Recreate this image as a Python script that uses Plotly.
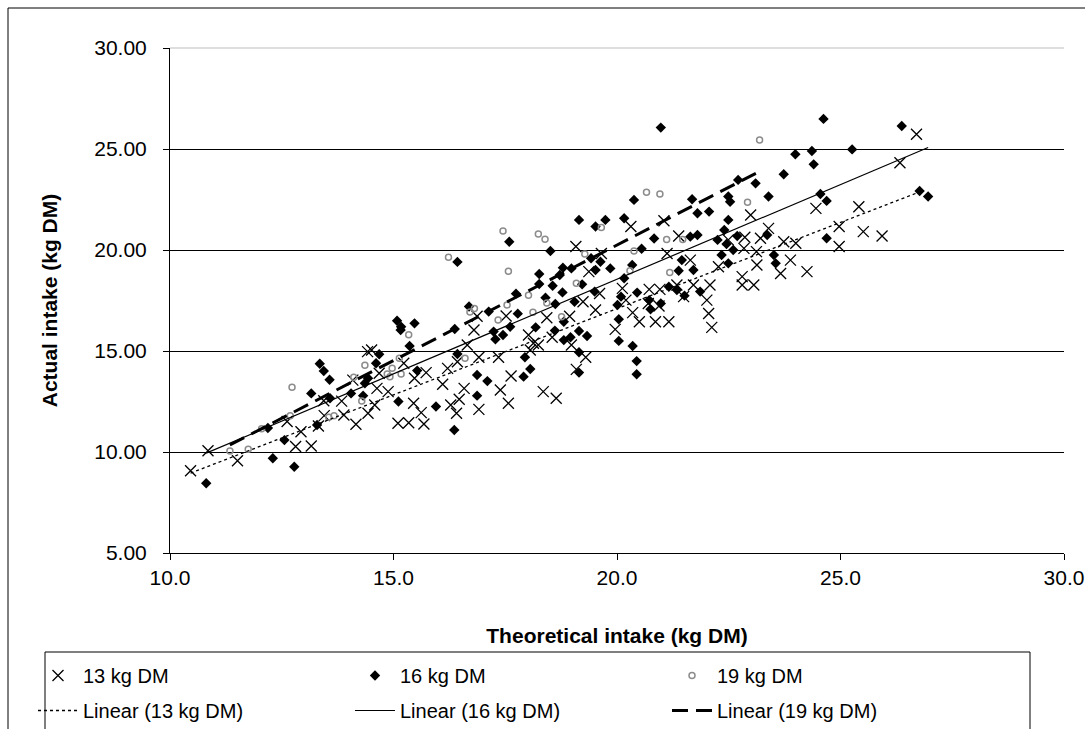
import numpy as np
import plotly.graph_objects as go

# 13 kg DM (x markers)
x13 = [10.46, 10.85, 11.51, 12.81, 13.16, 12.93, 13.32, 12.62, 13.44, 13.45, 13.89, 13.84, 14.16, 14.09, 14.42,
       14.51, 15.23, 14.68, 14.63, 14.88, 14.58, 14.43, 15.45, 15.62, 15.10, 15.34, 15.68, 15.73, 15.47, 16.10,
       16.21, 16.43, 16.65, 16.28, 16.41, 16.58, 16.47, 16.91, 17.39, 17.57, 17.63, 18.35, 18.64, 16.91, 17.35,
       16.80, 18.02, 18.13, 18.06, 18.55, 18.24, 16.87, 17.52, 18.43,
       22.99, 20.31, 21.05, 21.38, 22.86, 23.21, 22.49, 22.84, 23.12, 23.13, 22.27, 22.80, 22.80, 23.06, 19.08,
       19.65, 21.12, 21.64, 19.37, 20.12, 19.61, 19.24, 20.20, 20.35, 20.50, 20.86, 21.16, 20.72, 20.70, 20.96,
       20.94, 21.34, 21.49, 21.71, 22.08, 22.01, 22.05, 22.12, 19.96, 18.98, 19.30, 19.09, 18.94, 19.52,
       26.70, 26.33, 24.45, 25.41, 24.97, 25.51, 25.93, 24.97, 23.39, 23.73, 24.00, 23.88, 23.66, 24.25]
y13 = [9.07, 10.06, 9.57, 10.27, 10.30, 11.00, 11.29, 11.51, 12.54, 11.80, 11.83, 12.52, 11.37, 13.56, 14.97,
       15.05, 14.39, 13.90, 13.15, 12.99, 12.33, 11.92, 12.41, 11.95, 11.42, 11.45, 11.39, 13.93, 13.65, 13.35,
       14.14, 14.47, 15.30, 12.33, 11.92, 13.15, 12.61, 12.11, 13.07, 12.41, 13.76, 12.99, 12.66, 14.69, 14.69,
       16.04, 15.79, 15.38, 15.05, 15.68, 15.30, 16.72, 16.73, 16.65,
       21.73, 21.16, 21.45, 20.69, 20.63, 20.58, 20.50, 20.08, 19.92, 19.26, 19.17, 18.68, 18.27, 18.27, 20.17,
       19.83, 19.83, 19.50, 18.93, 18.10, 17.85, 17.44, 17.52, 16.90, 16.45, 16.45, 16.45, 18.05, 17.35, 18.05,
       17.23, 18.27, 17.69, 18.27, 18.27, 17.52, 16.86, 16.17, 16.07, 15.30, 14.69, 14.09, 16.72, 17.03,
       25.73, 24.32, 22.06, 22.14, 21.16, 20.91, 20.69, 20.17, 21.07, 20.41, 20.33, 19.50, 18.84, 18.93]

# 16 kg DM (diamonds)
x16 = [10.81, 12.30, 12.78, 12.56, 13.29, 12.19, 13.16, 13.35, 13.44, 13.57, 13.58, 14.05, 14.32, 14.36,
       16.43, 18.51, 18.26, 18.79, 18.72, 18.26, 18.56, 18.78, 17.74, 18.40, 18.62, 16.69, 17.13, 17.78, 18.81,
       15.08, 15.17, 15.16, 15.47, 15.36, 14.68, 14.61, 14.43, 15.11, 15.53, 16.43, 15.95, 16.36, 16.87, 16.87,
       17.10, 17.91, 18.06, 17.24, 17.28, 17.45, 17.61, 16.37, 18.18, 17.94, 18.61, 18.81, 17.59,
       20.38, 21.68, 21.80, 22.06, 22.71, 23.10, 22.49, 22.53, 19.15, 19.52, 19.74, 20.16, 20.83, 21.64, 21.80,
       22.49, 22.40, 22.25, 22.69, 22.45, 22.60, 22.34, 22.49, 19.42, 19.63, 20.55, 21.45, 21.71, 21.38, 20.34,
       19.85, 19.52, 18.98, 19.22, 20.16, 19.50, 19.05, 20.09, 20.01, 20.45, 20.72, 20.98, 20.75, 21.16, 21.34,
       21.51, 21.86, 20.04, 20.04, 20.35, 20.44, 20.44, 19.15, 19.33, 18.96, 19.15, 19.15, 20.98,
       24.62, 26.37, 23.99, 24.36, 24.40, 25.26, 23.73, 23.39, 24.55, 24.69, 26.77, 26.96, 24.69, 23.36, 23.51, 23.55]
y16 = [8.45, 9.69, 9.27, 10.59, 11.34, 11.19, 12.90, 14.37, 14.01, 13.58, 12.66, 12.90, 12.79, 13.40,
       19.41, 19.95, 18.81, 19.12, 18.76, 18.32, 18.23, 17.90, 17.84, 17.64, 17.33, 17.20, 16.95, 16.85, 16.45,
       16.50, 16.20, 16.04, 16.37, 15.25, 14.84, 14.39, 13.65, 12.50, 14.03, 14.85, 12.25, 11.09, 12.79, 13.81,
       13.51, 13.73, 14.11, 15.96, 15.58, 15.79, 16.20, 16.09, 16.17, 14.69, 16.01, 15.54, 20.41,
       22.48, 22.51, 21.82, 21.90, 23.47, 23.30, 22.65, 22.39, 21.49, 21.16, 21.49, 21.57, 20.57, 20.66, 20.74,
       21.49, 20.99, 20.50, 20.69, 20.30, 20.00, 19.75, 19.34, 19.59, 19.42, 20.06, 19.50, 19.01, 18.97, 19.26,
       19.09, 19.01, 19.09, 18.30, 18.60, 17.94, 17.44, 17.69, 17.28, 17.89, 17.52, 17.35, 17.07, 18.18, 18.02,
       17.74, 17.94, 16.57, 15.50, 15.25, 14.50, 13.85, 15.99, 15.74, 15.68, 14.94, 13.93, 26.06,
       26.49, 26.14, 24.74, 24.90, 24.24, 24.98, 23.75, 22.65, 22.77, 22.43, 22.92, 22.65, 20.58, 20.74, 19.75, 19.34]

# 19 kg DM (open circles)
x19 = [11.34, 11.75, 12.05, 12.69, 12.73, 13.55, 13.67, 14.11, 14.29, 14.36, 16.23, 17.57, 18.02, 18.43,
       16.71, 16.81, 17.54, 17.34, 18.12, 18.76, 15.34, 15.13, 14.97, 14.86, 14.92, 15.17, 16.60, 17.45,
       18.24, 18.39, 20.66, 20.96, 22.92, 19.65, 21.11, 21.47, 19.28, 20.38, 21.18, 20.29, 19.09, 23.19]
y19 = [10.05, 10.13, 11.15, 11.80, 13.20, 11.72, 11.80, 13.70, 12.52, 14.29, 19.64, 18.95, 17.76, 17.38,
       16.93, 17.11, 17.28, 16.53, 16.92, 16.70, 15.81, 14.64, 14.14, 13.86, 13.73, 13.86, 14.64, 20.94,
       20.79, 20.53, 22.86, 22.77, 22.36, 21.11, 20.52, 20.52, 19.80, 19.95, 18.88, 18.97, 18.35, 25.45]

series = [
    ("13 kg DM", x13, y13),
    ("16 kg DM", x16, y16),
    ("19 kg DM", x19, y19),
]

FONT = "Liberation Sans, Arial, sans-serif"
fig = go.Figure()

marker_styles = [
    dict(symbol="x-thin", size=11, line=dict(color="black", width=1.3), color="black"),
    dict(symbol="diamond", size=8, color="black", line=dict(width=0)),
    dict(symbol="circle-open", size=6, color="#8c8c8c", line=dict(color="#8c8c8c", width=1.5)),
]
for (name, xs, ys), m in zip(series, marker_styles):
    fig.add_trace(go.Scatter(x=xs, y=ys, mode="markers", name=name, marker=m, legend="legend"))

line_styles = [
    dict(color="black", width=1.3, dash="dot"),
    dict(color="black", width=1.2, dash="solid"),
    dict(color="black", width=3, dash="16px,8px"),
]
for (name, xs, ys), ls in zip(series, line_styles):
    xa = np.array(xs); ya = np.array(ys)
    k, b = np.polyfit(xa, ya, 1)
    xr = np.array([xa.min(), xa.max()])
    fig.add_trace(go.Scatter(x=xr, y=k * xr + b, mode="lines", name="Linear (%s)" % name, line=ls,
                             legend="legend2"))

L, R, T, B = 170, 21, 48, 176
W, H = 1085, 729
pw, ph = W - L - R, H - T - B

def px_x(p):
    return (p - L) / pw

def px_y(p):
    return (H - B - p) / ph

shapes = [
    # outer chart border (left & top visible)
    dict(type="rect", xref="paper", yref="paper", x0=px_x(8), x1=px_x(1120), y0=px_y(800), y1=px_y(8),
         line=dict(color="black", width=1), layer="below"),
    # plot area top edge
    dict(type="line", xref="paper", yref="paper", x0=0, x1=1, y0=1, y1=1,
         line=dict(color="#bdbdbd", width=1)),
    # legend box
    dict(type="rect", xref="paper", yref="paper", x0=px_x(45), x1=px_x(1030), y0=px_y(745), y1=px_y(652),
         line=dict(color="black", width=1)),
]

leg_common = dict(orientation="h", xref="paper", yref="paper", xanchor="left", yanchor="top",
                  entrywidth=262, entrywidthmode="pixels", itemwidth=40,
                  font=dict(family=FONT, size=20, color="black"), bgcolor="rgba(0,0,0,0)",
                  traceorder="normal")

fig.update_layout(
    width=W, height=H,
    margin=dict(l=L, r=R, t=T, b=B, autoexpand=False),
    paper_bgcolor="white", plot_bgcolor="white",
    font=dict(family=FONT, size=20, color="black"),
    showlegend=True,
    legend=dict(x=px_x(33), y=px_y(656), **leg_common),
    legend2=dict(x=px_x(33), y=px_y(691), **leg_common),
    xaxis=dict(range=[10, 30], dtick=5, tick0=10, tickformat=".1f", showgrid=False, zeroline=False,
               showline=True, linecolor="black", linewidth=1, ticks="outside", ticklen=6, tickcolor="black",
               ticklabeloverflow="allow", automargin=False,
               title=dict(text="<b>Theoretical intake (kg DM)</b>", font=dict(family=FONT, size=21), standoff=40),
               tickfont=dict(family=FONT, size=21)),
    yaxis=dict(range=[5, 30], dtick=5, tick0=5, tickformat=".2f", showgrid=True, gridcolor="black", gridwidth=1,
               zeroline=False, showline=True, linecolor="black", linewidth=1, ticks="outside", ticklen=6,
               tickcolor="black", ticklabelstandoff=12, automargin=False,
               title=dict(text="<b>Actual intake (kg DM)</b>", font=dict(family=FONT, size=21), standoff=30),
               tickfont=dict(family=FONT, size=21)),
    shapes=shapes,
)

fig.write_html("out.html", config={"displayModeBar": False},
               post_script="document.documentElement.style.overflow='hidden';"
                           "document.body.style.margin='0px';document.body.style.overflow='hidden';")
